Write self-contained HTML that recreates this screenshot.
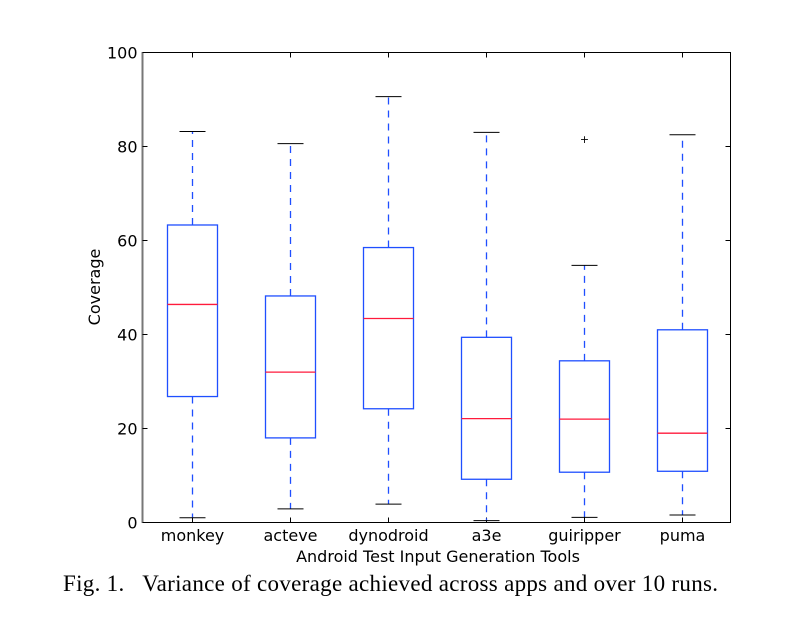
<!DOCTYPE html>
<html><head><meta charset="utf-8"><style>
body{margin:0;background:#fff;width:788px;height:616px;overflow:hidden}
svg text{font-family:"DejaVu Sans","Liberation Sans",sans-serif}
</style></head><body>
<svg id="chart" width="788" height="616" xmlns="http://www.w3.org/2000/svg">
<rect x="142.5" y="52.5" width="588" height="470" fill="#fff" stroke="#000" stroke-width="1"/>
<line x1="142.5" x2="142.5" y1="52" y2="523" stroke="#777" stroke-width="2"/>
<g id="marks"></g>
<text x="438" y="562" font-size="16" text-anchor="middle">Android Test Input Generation Tools</text>
<text transform="translate(100,287) rotate(-90)" font-size="16" text-anchor="middle">Coverage</text>
<text x="63" y="591" font-size="23" textLength="655" style="font-family:'Liberation Serif',serif" xml:space="preserve">Fig. 1.   Variance of coverage achieved across apps and over 10 runs.</text>
</svg>
<script>
const categories=["monkey","acteve","dynodroid","a3e","guiripper","puma"];
const whiskerLow=[1,2.9,3.9,0.4,1.1,1.6];
const q1=[26.8,18,24.2,9.2,10.7,10.9];
const median=[46.4,32,43.4,22.1,22,19];
const q3=[63.3,48.2,58.5,39.4,34.4,41];
const whiskerHigh=[83.2,80.6,90.6,83,54.7,82.5];
const fliers=[[],[],[],[],[81.6],[]];
const yTicks=[0,20,40,60,80,100];

const L=142.5,R=730.5,T=52.5,B=522.5;
const y=v=>B-(v/100)*(B-T);
const step=(R-L)/categories.length;
const x=i=>Math.round(L+step*(i+0.5))+0.5;
const g=document.getElementById('marks');
const NS="http://www.w3.org/2000/svg";
function mk(tag,a){const e=document.createElementNS(NS,tag);for(const k in a)e.setAttribute(k,a[k]);g.appendChild(e);return e;}
yTicks.forEach(t=>{
  const a=mk('line',{x1:L,x2:L+5,y1:y(t),y2:y(t),stroke:'#000'});
  
  
  const b=mk('line',{x1:R-5,x2:R,y1:y(t),y2:y(t),stroke:'#000'});
  
  
  const tx=mk('text',{x:L-5,y:y(t)+6,'font-size':16,'text-anchor':'end'});
  tx.textContent=t;
  
  
});
categories.forEach((c,i)=>{
  const cx=x(i),hw=25,cw=13;
  const t1=mk('line',{x1:cx,x2:cx,y1:B,y2:B-5,stroke:'#000'});
  
  
  const t2=mk('line',{x1:cx,x2:cx,y1:T,y2:T+5,stroke:'#000'});
  
  
  const lb=mk('text',{x:cx,y:541,'font-size':16,'text-anchor':'middle'});
  lb.textContent=c;
  
  
  const w1=mk('line',{x1:cx,x2:cx,y1:y(q3[i]),y2:y(whiskerHigh[i]),stroke:'#1f4fff','stroke-width':1.3,'stroke-dasharray':'7,6'});
  
  
  const w2=mk('line',{x1:cx,x2:cx,y1:y(q1[i]),y2:y(whiskerLow[i]),stroke:'#1f4fff','stroke-width':1.3,'stroke-dasharray':'7,6'});
  
  
  const c1=mk('line',{x1:cx-cw,x2:cx+cw,y1:y(whiskerHigh[i]),y2:y(whiskerHigh[i]),stroke:'#000'});
  
  
  const c2=mk('line',{x1:cx-cw,x2:cx+cw,y1:y(whiskerLow[i]),y2:y(whiskerLow[i]),stroke:'#000'});
  
  
  const bx=mk('rect',{x:cx-hw,y:y(q3[i]),width:2*hw,height:y(q1[i])-y(q3[i]),fill:'none',stroke:'#1f4fff','stroke-width':1.3});
  
  
  const md=mk('line',{x1:cx-hw,x2:cx+hw,y1:y(median[i]),y2:y(median[i]),stroke:'#ff1a3c','stroke-width':1.3});
  
  
  fliers[i].forEach(f=>{
    const fl=mk('text',{x:cx,y:y(f)+4,'font-size':11,'text-anchor':'middle'});
    fl.textContent='+';
    
    
  });
});
</script>
</body></html>
